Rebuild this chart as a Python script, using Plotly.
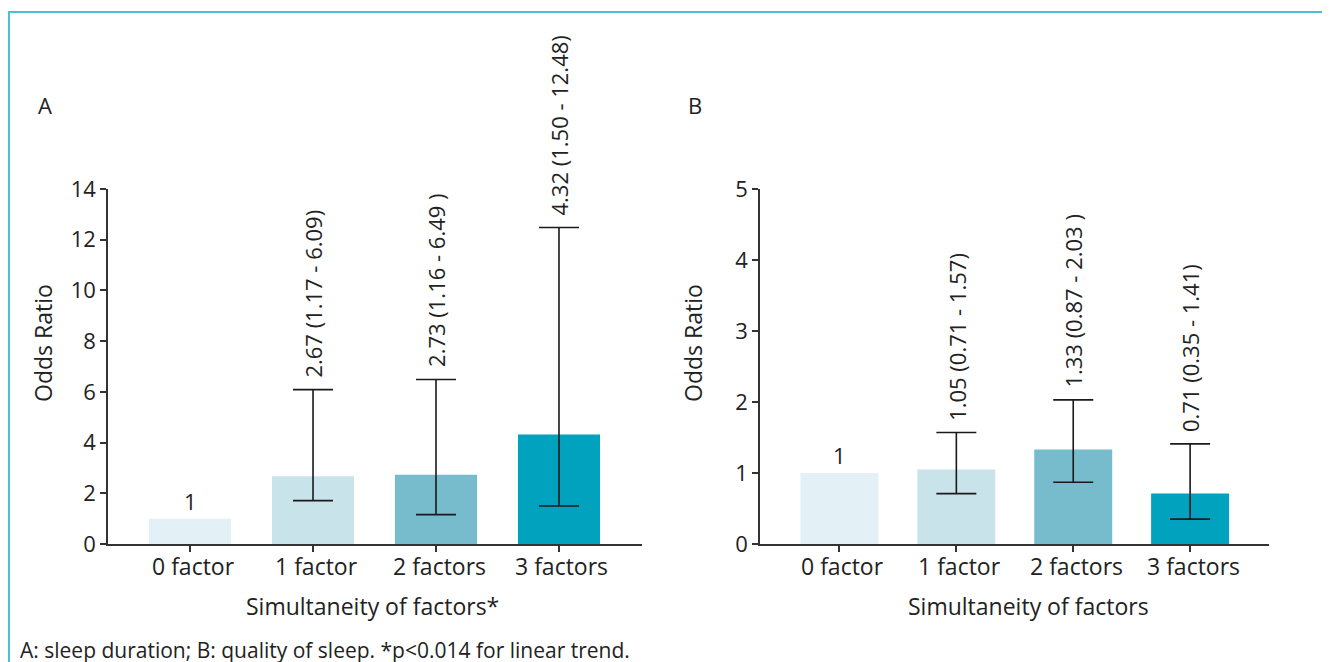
import plotly.graph_objects as go

W, H = 1330, 662
OFF = 8  # page body margin in the viewer

categories = ["0 factor", "1 factor", "2 factors", "3 factors"]

# Panel A: sleep duration
or_a = [1.0, 2.67, 2.73, 4.32]
ci_low_a = [None, 1.71, 1.16, 1.50]   # lower whisker as drawn
ci_high_a = [None, 6.09, 6.49, 12.48]
labels_a = ["1", "2.67 (1.17 - 6.09)", "2.73 (1.16 - 6.49 )", "4.32 (1.50 - 12.48)"]

# Panel B: quality of sleep
or_b = [1.0, 1.05, 1.33, 0.71]
ci_low_b = [None, 0.71, 0.87, 0.35]
ci_high_b = [None, 1.57, 2.03, 1.41]
labels_b = ["1", "1.05 (0.71 - 1.57)", "1.33 (0.87 - 2.03 )", "0.71 (0.35 - 1.41)"]

y_ticks_a = [0, 2, 4, 6, 8, 10, 12, 14]
y_ticks_b = [0, 1, 2, 3, 4, 5]

bar_colors = ["#e3f0f6", "#c8e3ea", "#76bccc", "#00a2bd"]
FONT = "Open Sans"
TXT = "#222222"
AX = "#333333"


def px_x(s):
    return (s - OFF) / W


def px_y(s):
    return 1 - (s - OFF) / H


fig = go.Figure()


def add_panel(vals, lo, hi, xa, ya):
    fig.add_trace(go.Bar(
        x=categories, y=vals, xaxis=xa, yaxis=ya,
        marker=dict(color=bar_colors, line=dict(width=0)),
        width=0.667, showlegend=False, hoverinfo="skip", cliponaxis=False,
    ))
    idx = [i for i, h in enumerate(hi) if h is not None]
    fig.add_trace(go.Scatter(
        x=[categories[i] for i in idx], y=[vals[i] for i in idx],
        xaxis=xa, yaxis=ya, mode="markers",
        marker=dict(size=1, opacity=0),
        error_y=dict(type="data", symmetric=False,
                     array=[hi[i] - vals[i] for i in idx],
                     arrayminus=[vals[i] - lo[i] for i in idx],
                     color="#1a1a1a", thickness=1.6, width=20),
        showlegend=False, hoverinfo="skip", cliponaxis=False,
    ))


add_panel(or_a, ci_low_a, ci_high_a, "x", "y")
add_panel(or_b, ci_low_b, ci_high_b, "x2", "y2")

axis_common = dict(showline=True, linecolor=AX, linewidth=1.5, ticks="outside",
                   ticklen=6, tickcolor=AX, tickwidth=1.5, showgrid=False,
                   zeroline=False, automargin=False,
                   tickfont=dict(family=FONT, size=22, color=TXT))

fig.update_layout(
    width=W, height=H, autosize=False,
    margin=dict(l=0, r=0, t=0, b=0, pad=0, autoexpand=False),
    paper_bgcolor="white", plot_bgcolor="white",
    font=dict(family=FONT, color=TXT),
    xaxis=dict(domain=[px_x(108), px_x(642)], range=[-0.667, 3.675], anchor="y",
               showticklabels=False, **axis_common),
    yaxis=dict(domain=[px_y(544), px_y(189)], range=[0, 14], tickvals=y_ticks_a,
               anchor="x", **axis_common),
    xaxis2=dict(domain=[px_x(760), px_x(1269)], range=[-0.68, 3.675], anchor="y2",
                showticklabels=False, **axis_common),
    yaxis2=dict(domain=[px_y(544), px_y(189)], range=[0, 5], tickvals=y_ticks_b,
                anchor="x2", **axis_common),
)

annotations = []


def add_labels(vals, hi, labels, xr, yr):
    for cat, v, h, lab in zip(categories, vals, hi, labels):
        if h is None:
            annotations.append(dict(x=cat, y=v, xref=xr, yref=yr, text=lab,
                                    showarrow=False, yanchor="bottom", yshift=1,
                                    font=dict(family=FONT, size=22, color=TXT)))
        else:
            annotations.append(dict(x=cat, y=h, xref=xr, yref=yr, text=lab,
                                    showarrow=False, yanchor="bottom", yshift=10,
                                    textangle=-90,
                                    font=dict(family=FONT, size=22, color=TXT)))
        # category tick label
        annotations.append(dict(x=cat, y=px_y(566), xref=xr, yref="paper", text=cat,
                                showarrow=False, yanchor="middle", xanchor="center",
                                xshift=3,
                                font=dict(family=FONT, size=23, color=TXT)))


add_labels(or_a, ci_high_a, labels_a, "x", "y")
add_labels(or_b, ci_high_b, labels_b, "x2", "y2")

paper_txt = [
    ("A", 45, 105, 22, 0),
    ("B", 695, 105, 22, 0),
    ("Odds Ratio", 43, 343, 23, -90),
    ("Odds Ratio", 693, 343, 23, -90),
    ("Simultaneity of factors*", 372, 606, 23, 0),
    ("Simultaneity of factors", 1028, 606, 23, 0),
]
for t, x, y, s, ang in paper_txt:
    annotations.append(dict(text=t, x=px_x(x), y=px_y(y), xref="paper", yref="paper",
                            showarrow=False, xanchor="center", yanchor="middle",
                            textangle=ang, font=dict(family=FONT, size=s, color=TXT)))
annotations.append(dict(text="A: sleep duration; B: quality of sleep. *p<0.014 for linear trend.",
                        x=px_x(18), y=px_y(650), xref="paper", yref="paper",
                        showarrow=False, xanchor="left", yanchor="middle",
                        font=dict(family=FONT, size=21, color=TXT)))
fig.update_layout(annotations=annotations)

fig.add_shape(type="rect", xref="paper", yref="paper",
              x0=px_x(9), x1=px_x(1326), y0=px_y(12), y1=px_y(690),
              line=dict(color="#4dbfd4", width=2), fillcolor="rgba(0,0,0,0)", layer="below")

fig.write_html("out.html")
